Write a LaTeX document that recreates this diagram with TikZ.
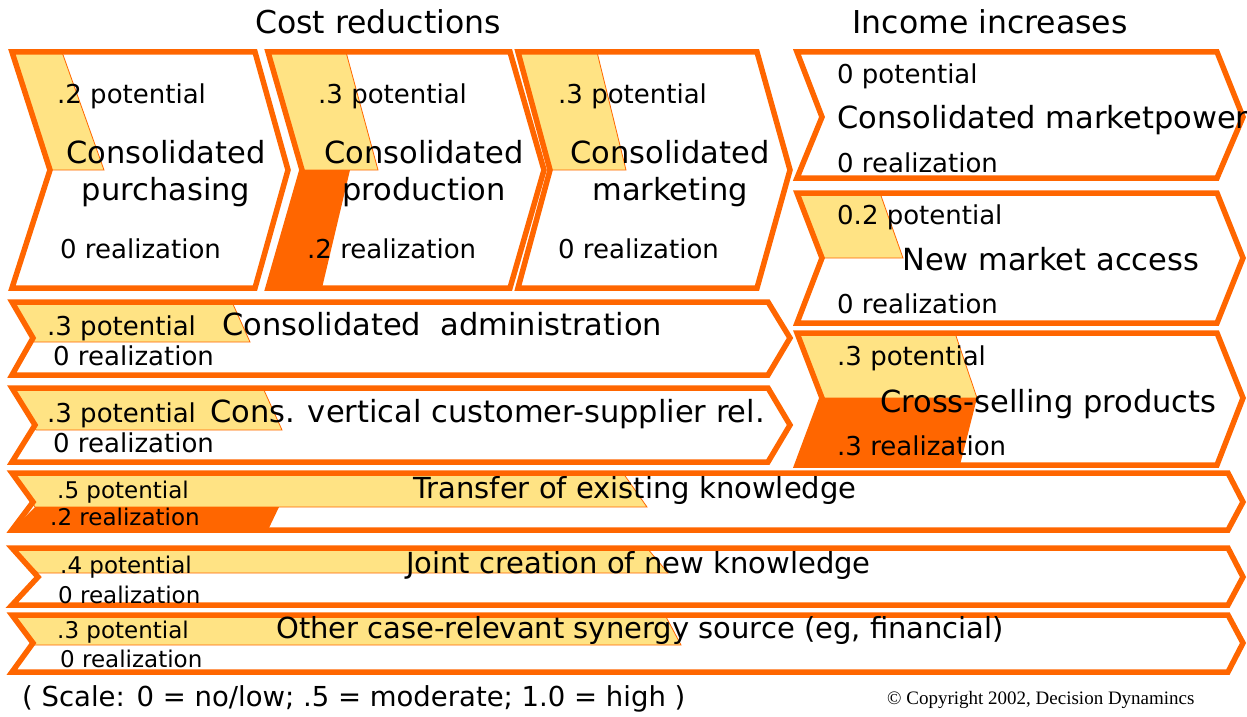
\documentclass[tikz,border=0pt]{standalone}
\usepackage{fontspec}
\setmainfont{DejaVu Sans}
\newfontfamily\copyfont{Liberation Serif}
\definecolor{synorange}{HTML}{FF6600}
\definecolor{potyellow}{HTML}{FFE384}
\tikzset{
  chev/.style={draw=synorange, line width=5.5pt},
  potfill/.style={fill=potyellow, draw=synorange, line width=0.8pt},
  realfill/.style={fill=synorange},
  hdr/.style={font=\fontsize{31.5}{36}\selectfont, anchor=base, inner sep=0pt},
  lblbig/.style={font=\fontsize{30.5}{37}\selectfont, anchor=base west, inner sep=0pt},
  lblrow/.style={font=\fontsize{29}{35}\selectfont, anchor=base west, inner sep=0pt},
  lbltwo/.style={font=\fontsize{30.5}{37}\selectfont, anchor=base, align=center, inner sep=0pt},
  lblsmall/.style={font=\fontsize{26}{30}\selectfont, anchor=base west, inner sep=0pt},
  lbltiny/.style={font=\fontsize{23}{27}\selectfont, anchor=base west, inner sep=0pt},
}
\begin{document}
\begin{tikzpicture}[x=1pt,y=-1pt]
  \useasboundingbox (0,0) rectangle (1247,717);
  % headings
  \node[hdr] (costhdr) at (378,34) {Cost reductions};
  \node[hdr] (inchdr) at (990,34) {Income increases};

  % consolidated purchasing
  \filldraw[potfill] (12,52) -- (62,52) -- (104,170) -- (50,170) -- cycle;
  \draw[chev] (12,52) -- (255,52) -- (288,170) -- (255,288) -- (12,288) -- (50,170) -- cycle;
  % consolidated production
  \filldraw[potfill] (268,52) -- (346,52) -- (378,170) -- (302,170) -- cycle;
  \fill[realfill] (302,170) -- (350,170) -- (322,288) -- (268,288) -- cycle;
  \draw[chev] (268,52) -- (510,52) -- (544,170) -- (510,288) -- (268,288) -- (302,170) -- cycle;
  % consolidated marketing
  \filldraw[potfill] (518,52) -- (597,52) -- (626,170) -- (550,170) -- cycle;
  \draw[chev] (518,52) -- (757,52) -- (790,170) -- (757,288) -- (518,288) -- (550,170) -- cycle;

  % marketpower
  \draw[chev] (797,52) -- (1217,52) -- (1243,117) -- (1217,178) -- (797,178) -- (822,117) -- cycle;
  % new market access
  \filldraw[potfill] (797,193) -- (880,193) -- (903,258) -- (822,258) -- cycle;
  \draw[chev] (797,193) -- (1217,193) -- (1243,258) -- (1217,323) -- (797,323) -- (822,258) -- cycle;
  % cross-selling
  \filldraw[potfill] (797,333) -- (955,333) -- (977,398) -- (822,398) -- cycle;
  \fill[realfill] (822,398) -- (977,398) -- (960,465) -- (797,465) -- cycle;
  \draw[chev] (797,333) -- (1217,333) -- (1243,398) -- (1217,465) -- (797,465) -- (822,398) -- cycle;

  % administration
  \filldraw[potfill] (12,302) -- (232,302) -- (250,342) -- (34,342) -- cycle;
  \draw[chev] (12,302) -- (768,302) -- (790,338) -- (768,375) -- (12,375) -- (33,338) -- cycle;
  % vertical relations
  \filldraw[potfill] (12,388) -- (263,388) -- (282,430) -- (36,430) -- cycle;
  \draw[chev] (12,388) -- (768,388) -- (790,425) -- (768,462) -- (12,462) -- (35,425) -- cycle;

  % existing knowledge
  \filldraw[potfill] (12,473) -- (623,473) -- (647,507) -- (35,507) -- cycle;
  \fill[realfill] (35,507) -- (279,507) -- (268,530) -- (12,530) -- cycle;
  \draw[chev] (12,473) -- (1228,473) -- (1243,502) -- (1228,530) -- (12,530) -- (33,502) -- cycle;
  % new knowledge
  \filldraw[potfill] (12,548) -- (647,548) -- (668,573) -- (38,573) -- cycle;
  \draw[chev] (12,548) -- (1228,548) -- (1243,577) -- (1228,605) -- (12,605) -- (38,577) -- cycle;
  % other source
  \filldraw[potfill] (12,615) -- (665,615) -- (681,645) -- (33,645) -- cycle;
  \draw[chev] (12,615) -- (1228,615) -- (1243,643) -- (1228,672) -- (12,672) -- (33,643) -- cycle;

  % texts, cost side
  \node[lblsmall] (purchpot) at (57,103) {.2 potential};
  \node[lbltwo] (purchname) at (166,200) {Consolidated\\purchasing};
  \node[lblsmall] (purchreal) at (60,258) {0 realization};
  \node[lblsmall] (prodpot) at (318,103) {.3 potential};
  \node[lbltwo] (prodname) at (424,200) {Consolidated\\production};
  \node[lblsmall] (prodreal) at (307,258) {.2 realization};
  \node[lblsmall] (mktgpot) at (558,103) {.3 potential};
  \node[lbltwo] (mktgname) at (670,200) {Consolidated\\marketing};
  \node[lblsmall] (mktgreal) at (558,258) {0 realization};
  \node[lblsmall] (adminpot) at (47,335) {.3 potential};
  \node[lblbig] (adminname) at (222,335) {Consolidated~~administration};
  \node[lblsmall] (adminreal) at (53,365) {0 realization};
  \node[lblsmall] (vertpot) at (47,422) {.3 potential};
  \node[lblbig] (vertname) at (210,422) {Cons. vertical customer-supplier rel.};
  \node[lblsmall] (vertreal) at (53,452) {0 realization};

  % texts, income side
  \node[lblsmall] (powerpot) at (837,83) {0 potential};
  \node[lblbig] (powername) at (837,128) {Consolidated marketpower};
  \node[lblsmall] (powerreal) at (837,172) {0 realization};
  \node[lblsmall] (accesspot) at (837,224) {0.2 potential};
  \node[lblbig] (accessname) at (902,270) {New market access};
  \node[lblsmall] (accessreal) at (837,313) {0 realization};
  \node[lblsmall] (crosspot) at (837,365) {.3 potential};
  \node[lblbig] (crossname) at (880,412) {Cross-selling products};
  \node[lblsmall] (crossreal) at (837,455) {.3 realization};

  % texts, knowledge rows
  \node[lbltiny] (transpot) at (57,498) {.5 potential};
  \node[lblrow] (transname) at (413,498) {Transfer of existing knowledge};
  \node[lbltiny] (transreal) at (50,525) {.2 realization};
  \node[lbltiny] (jointpot) at (60,573) {.4 potential};
  \node[lblrow] (jointname) at (406,573) {Joint creation of new knowledge};
  \node[lbltiny] (jointreal) at (58,603) {0 realization};
  \node[lbltiny] (otherpot) at (57,638) {.3 potential};
  \node[lblrow] (othername) at (276,638) {Other case-relevant synergy source (eg, financial)};
  \node[lbltiny] (otherreal) at (60,667) {0 realization};

  % footer
  \node[font=\fontsize{27.5}{32}\selectfont, anchor=base west, inner sep=0pt] (scale) at (22,706)
    {( Scale: 0 = no/low; .5 = moderate; 1.0 = high )};
  \node[font=\copyfont\fontsize{19}{22}\selectfont, anchor=base west, inner sep=0pt] (copyr) at (887,704)
    {© Copyright 2002, Decision Dynamincs};
\end{tikzpicture}
\end{document}
